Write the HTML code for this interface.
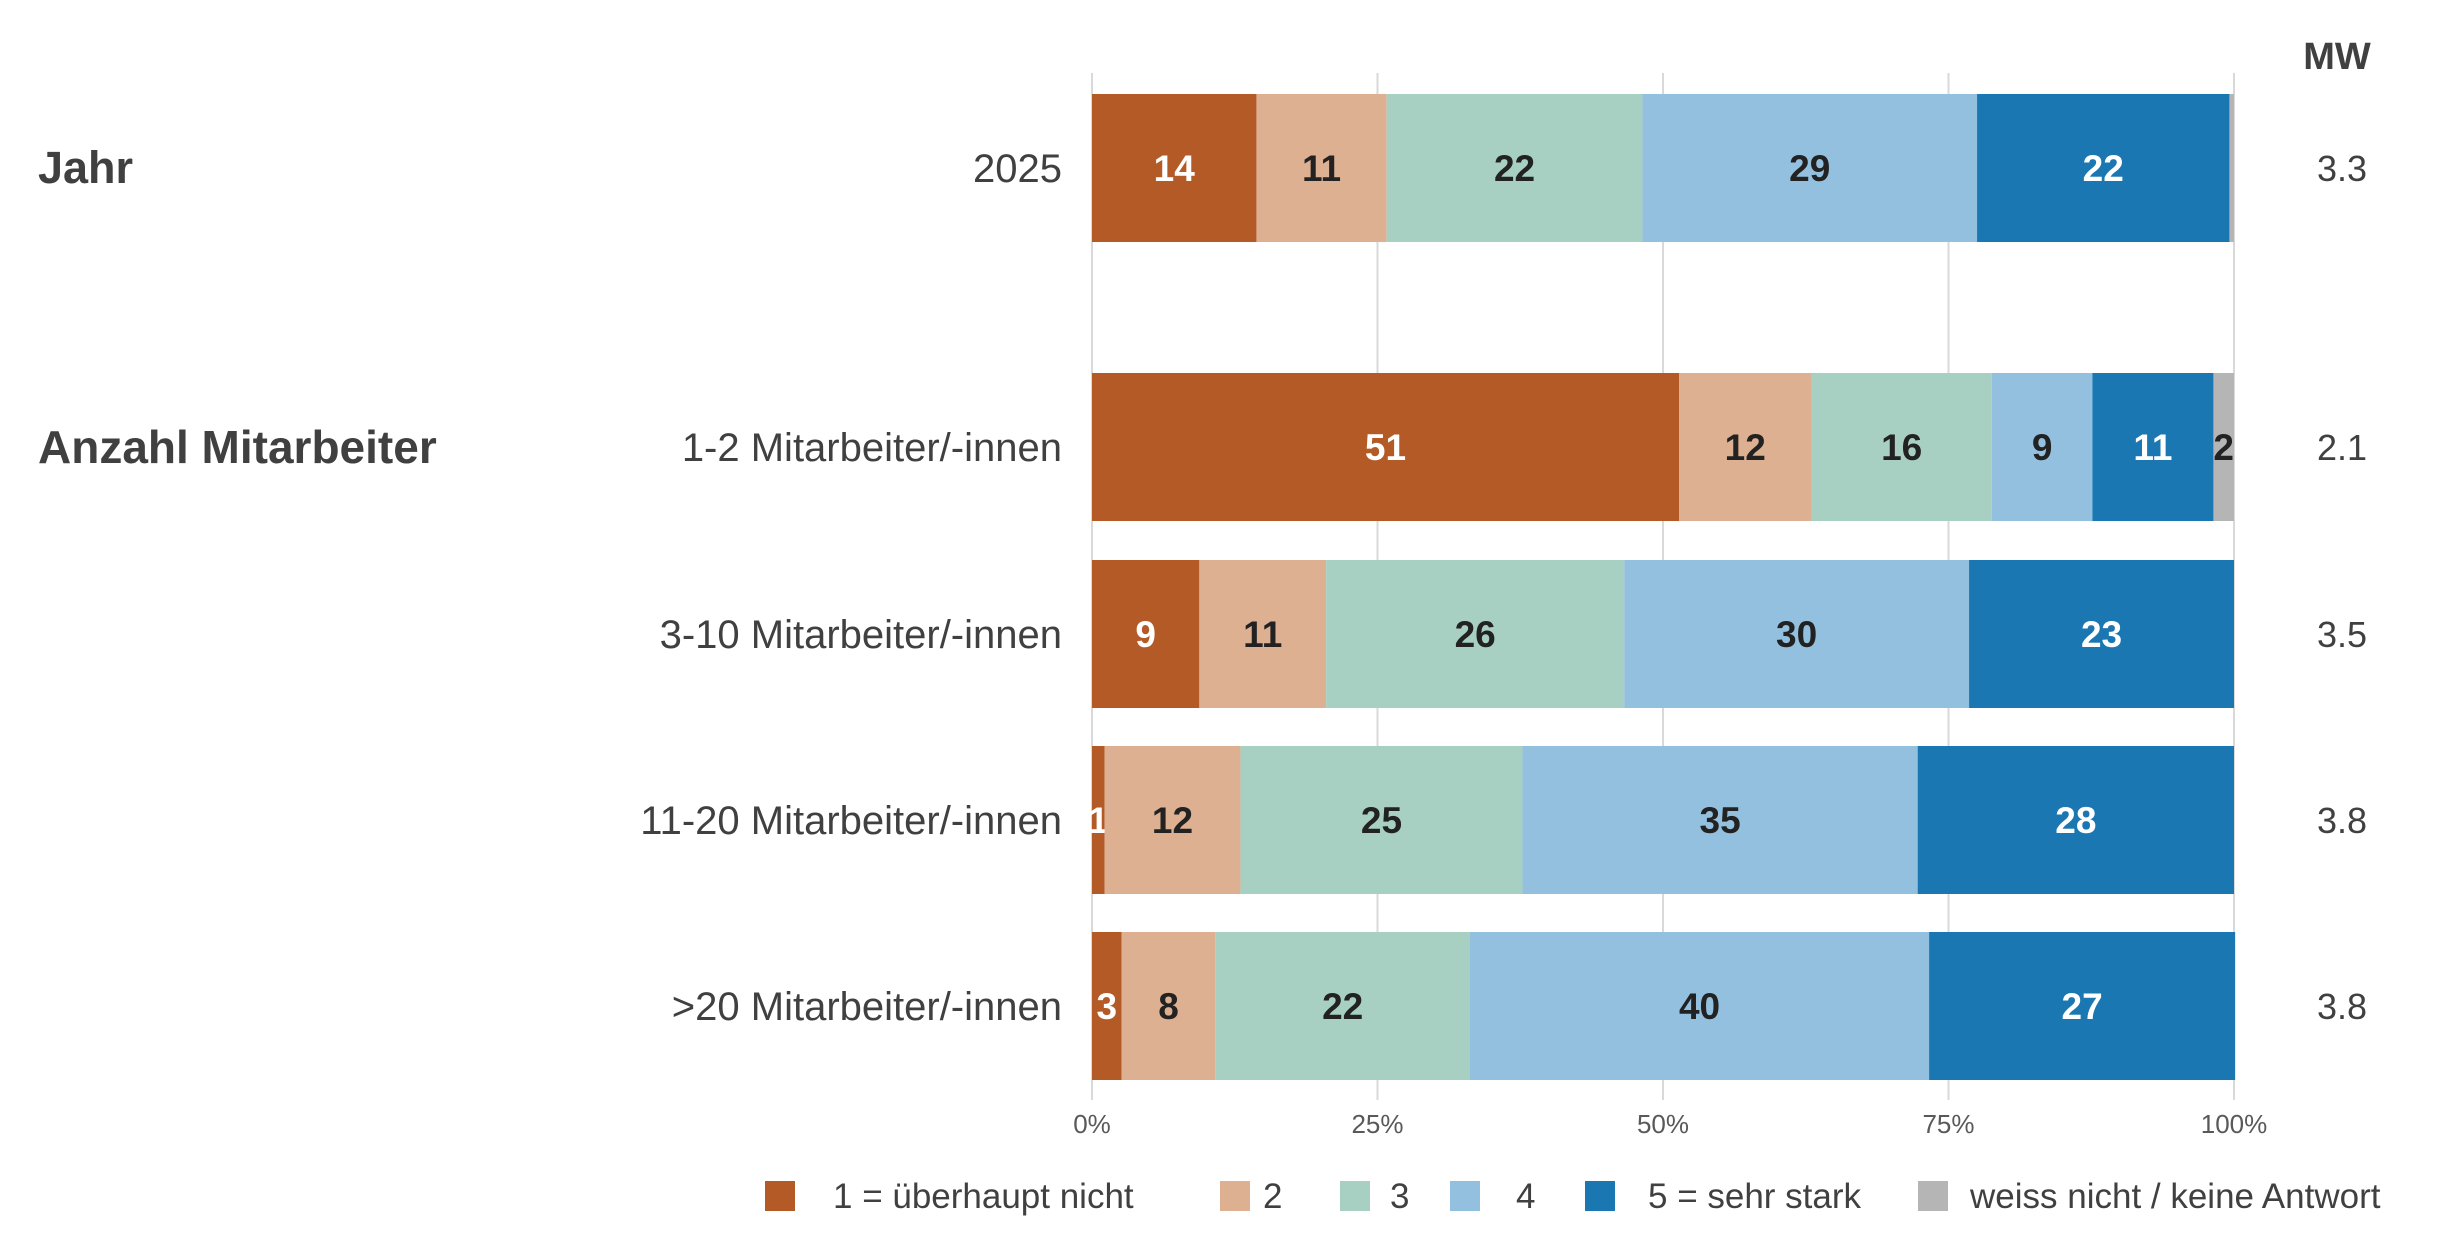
<!DOCTYPE html>
<html><head><meta charset="utf-8">
<style>
html,body{margin:0;padding:0;background:#fff;}
svg{display:block;font-family:"Liberation Sans",sans-serif;}
</style></head>
<body>
<svg id="chart" width="2450" height="1250" viewBox="0 0 2450 1250" xmlns="http://www.w3.org/2000/svg">
<g id="grid"></g>
<g id="bars"></g>
<g id="labels"></g>
<text x="38" y="183" font-size="45" font-weight="bold" fill="#404040">Jahr</text>
<text x="38" y="463" font-size="46" font-weight="bold" fill="#404040">Anzahl Mitarbeiter</text>
<text x="2337" y="69" font-size="38" font-weight="bold" fill="#404040" text-anchor="middle">MW</text>
<g id="legend"></g>
</svg>
<script>
const categories = ["2025","1-2 Mitarbeiter/-innen","3-10 Mitarbeiter/-innen","11-20 Mitarbeiter/-innen",">20 Mitarbeiter/-innen"];
const seriesNames = ["1 = überhaupt nicht","2","3","4","5 = sehr stark","weiss nicht / keine Antwort"];
const s1 = [14.4, 51.4, 9.4, 1.1, 2.6];
const s2 = [11.4, 11.6, 11.1, 11.9, 8.2];
const s3 = [22.4, 15.8, 26.1, 24.7, 22.3];
const s4 = [29.3, 8.8, 30.2, 34.6, 40.2];
const s5 = [22.1, 10.6, 23.2, 27.7, 26.8];
const s6 = [0.4, 1.8, 0, 0, 0];
const meanValues = ["3.3","2.1","3.5","3.8","3.8"];
const tickValues = [0,25,50,75,100];
const tickLabels = ["0%","25%","50%","75%","100%"];

const series = [s1,s2,s3,s4,s5,s6];
const colors = ["#b35a26","#deb092","#a7d0c2","#94c0df","#1a77b2","#b5b5b5"];
const textColors = ["#ffffff","#222222","#222222","#222222","#ffffff","#222222"];
const rowCenters = [168,447,634,820,1006];
const barH = 148;
const x0 = 1092, x1 = 2234;
function xScale(v){ return x0 + (x1-x0)*v/100; }
const NS = "http://www.w3.org/2000/svg";
function mk(tag, attrs, parent, txt){
  const e = document.createElementNS(NS, tag);
  for (const k in attrs) e.setAttribute(k, attrs[k]);
  if (txt !== undefined) e.textContent = txt;
  parent.appendChild(e);
  return e;
}
const grid = document.getElementById('grid');
tickValues.forEach((t,i)=>{
  const l = mk('line',{x1:xScale(t),x2:xScale(t),y1:73,y2:1100,stroke:'#d9d9d9','stroke-width':2},grid);
  
  
  const tx = mk('text',{x:xScale(t),y:1133,'font-size':26,fill:'#595959','text-anchor':'middle'},grid,tickLabels[i]);
  
  
});
const bars = document.getElementById('bars');
const labels = document.getElementById('labels');
categories.forEach((c,r)=>{
  let cum = 0;
  const yc = rowCenters[r];
  series.forEach((s,k)=>{
    const v = s[r];
    if (v <= 0) return;
    const xa = xScale(cum), xb = xScale(cum+v);
    const rect = mk('rect',{x:xa,y:yc-barH/2,width:xb-xa,height:barH,fill:colors[k]},bars);
    
    
    const lbl = Math.round(v);
    if (lbl >= 1) {
      const t = mk('text',{x:(xa+xb)/2,y:yc+13,'font-size':37,'font-weight':'bold',fill:textColors[k],'text-anchor':'middle'},bars,String(lbl));
      
      
    }
    cum += v;
  });
  const cl = mk('text',{x:1062,y:yc+14,'font-size':40,fill:'#404040','text-anchor':'end'},labels,c);
  
  
  const mw = mk('text',{x:2342,y:yc+13,'font-size':36,fill:'#404040','text-anchor':'middle'},labels,meanValues[r]);
  
  
});
const legend = document.getElementById('legend');
const legX = [765,1220,1340,1450,1585,1918];
const legTX = [833,1263,1390,1516,1648,1970];
seriesNames.forEach((n,k)=>{
  const sq = mk('rect',{x:legX[k],y:1181,width:30,height:30,fill:colors[k]},legend);
  
  
  const t = mk('text',{x:legTX[k],y:1208,'font-size':35,fill:'#404040'},legend,n);
  
  
});
</script>
</body></html>
